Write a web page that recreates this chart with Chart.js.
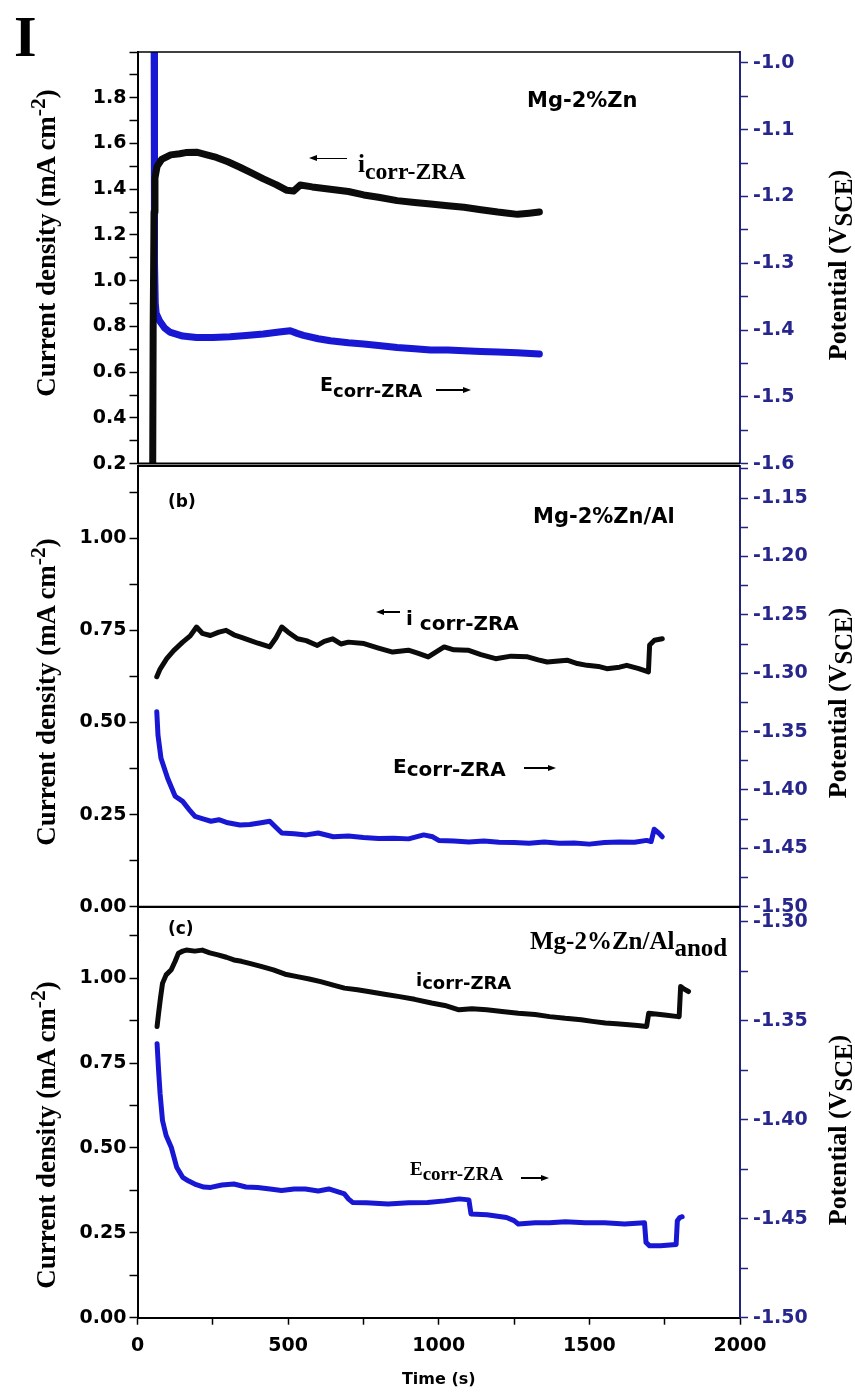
<!DOCTYPE html>
<html><head><meta charset="utf-8">
<script src="https://cdn.jsdelivr.net/npm/chart.js@4.4.1/dist/chart.umd.min.js"></script>
<style>
html,body{margin:0;padding:0;background:#fff;}
#wrap{position:relative;width:855px;height:1398px;background:#fff;overflow:hidden;}
canvas{position:absolute;left:0;}
.t{position:absolute;white-space:nowrap;color:#000;line-height:1;transform:translateY(-50%);}
.serif{font-family:"Liberation Serif","Times New Roman",serif;font-weight:bold;}
.sans{font-family:"DejaVu Sans",sans-serif;font-weight:bold;}
.rot{position:absolute;white-space:nowrap;line-height:1;transform:translate(-50%,-50%) rotate(-90deg);}
.ln{position:absolute;background:#000;height:1.5px;}
.hl{position:absolute;width:0;height:0;border-top:3px solid transparent;border-bottom:3px solid transparent;border-right:8px solid #000;}
.hr{position:absolute;width:0;height:0;border-top:3px solid transparent;border-bottom:3px solid transparent;border-left:8px solid #000;}
sub,sup{line-height:0;}
</style></head><body>
<div id="wrap">
<canvas id="c1" width="855" height="480" style="top:0px"></canvas>
<canvas id="c2" width="855" height="490" style="top:440px"></canvas>
<canvas id="c3" width="855" height="518" style="top:880px"></canvas>

<div class="t serif" style="left:14px;top:37px;font-size:58px;">I</div>

<div class="rot serif" style="left:46px;top:243px;font-size:27px;">Current density (mA cm<sup style="font-size:0.8em">-2</sup>)</div>
<div class="rot serif" style="left:46px;top:692px;font-size:27px;">Current density (mA cm<sup style="font-size:0.8em">-2</sup>)</div>
<div class="rot serif" style="left:46px;top:1135px;font-size:27px;">Current density (mA cm<sup style="font-size:0.8em">-2</sup>)</div>

<div class="rot serif" style="left:838px;top:265px;font-size:26px;">Potential (V<sub style="font-size:0.95em">SCE</sub>)</div>
<div class="rot serif" style="left:838px;top:703px;font-size:26px;">Potential (V<sub style="font-size:0.95em">SCE</sub>)</div>
<div class="rot serif" style="left:838px;top:1130px;font-size:26px;">Potential (V<sub style="font-size:0.95em">SCE</sub>)</div>

<!-- panel a -->
<div class="t sans" style="left:527px;top:100px;font-size:21px;">Mg-2%Zn</div>
<div class="ln" style="left:312px;top:157.5px;width:35px;"></div><div class="hl" style="left:309px;top:155.3px;"></div>
<div class="t serif" style="left:358px;top:163px;font-size:25px;">i<sub style="font-size:0.95em;vertical-align:-0.3em">corr-ZRA</sub></div>
<div class="t sans" style="left:320px;top:384px;font-size:19px;">E<sub style="font-size:0.95em;vertical-align:-0.35em">corr-ZRA</sub></div>
<div class="ln" style="left:436px;top:389px;width:30px;"></div><div class="hr" style="left:463px;top:386.8px;"></div>

<!-- panel b -->
<div class="t sans" style="left:168px;top:501px;font-size:17px;">(b)</div>
<div class="t sans" style="left:533px;top:516px;font-size:21px;">Mg-2%Zn/Al</div>
<div class="ln" style="left:380px;top:611px;width:20px;"></div><div class="hl" style="left:376px;top:608.8px;"></div>
<div class="t sans" style="left:406px;top:618px;font-size:20px;">i <sub style="font-size:1em;vertical-align:-0.25em">corr-ZRA</sub></div>
<div class="t sans" style="left:393px;top:766px;font-size:20px;">E<sub style="font-size:1em;vertical-align:-0.15em">corr-ZRA</sub></div>
<div class="ln" style="left:524px;top:767px;width:26px;"></div><div class="hr" style="left:548px;top:764.8px;"></div>

<!-- panel c -->
<div class="t sans" style="left:168px;top:928px;font-size:17px;">(c)</div>
<div class="t serif" style="left:530px;top:940px;font-size:25px;">Mg-2%Zn/Al<sub style="font-size:1em;vertical-align:-0.3em">anod</sub></div>
<div class="t sans" style="left:416px;top:980px;font-size:18px;">i<sub style="font-size:1em;vertical-align:-0.15em">corr-ZRA</sub></div>
<div class="t serif" style="left:410px;top:1168px;font-size:19px;">E<sub style="font-size:1em;vertical-align:-0.3em">corr-ZRA</sub></div>
<div class="ln" style="left:521px;top:1177px;width:22px;"></div><div class="hr" style="left:541px;top:1174.8px;"></div>
</div>

<script>
// ---------- DATA ----------
// Panel (a) Mg-2%Zn
const timeA_i = [50, 52, 55, 58, 65, 80, 110, 140, 160, 196, 230, 262, 300, 340, 380, 418, 460, 496, 518, 540, 580, 640, 700, 751, 800, 862, 920, 973, 1030, 1084, 1140, 1196, 1230, 1262, 1300, 1334];
const currentA = [0.0, 0.8, 1.3, 1.45, 1.50, 1.53, 1.55, 1.555, 1.56, 1.562, 1.55, 1.539, 1.52, 1.496, 1.47, 1.445, 1.42, 1.395, 1.392, 1.418, 1.41, 1.40, 1.39, 1.375, 1.365, 1.35, 1.342, 1.335, 1.328, 1.321, 1.31, 1.30, 1.295, 1.29, 1.295, 1.30];
const timeA_E = [55, 56, 57, 59, 62, 73, 90, 107, 150, 196, 250, 307, 360, 418, 470, 507, 530, 551, 600, 640, 700, 751, 800, 862, 920, 973, 1030, 1084, 1140, 1196, 1260, 1334];
const potentialA = [-0.9, -1.1, -1.3, -1.36, -1.375, -1.386, -1.397, -1.403, -1.409, -1.411, -1.411, -1.41, -1.408, -1.406, -1.403, -1.401, -1.405, -1.408, -1.413, -1.416, -1.419, -1.421, -1.423, -1.426, -1.428, -1.430, -1.430, -1.431, -1.432, -1.433, -1.434, -1.436];

// Panel (b) Mg-2%Zn/Al
const timeB_i = [64, 75, 97, 120, 150, 175, 196, 215, 242, 270, 294, 320, 345, 373, 400, 439, 460, 479, 500, 531, 560, 597, 620, 648, 675, 700, 752, 800, 847, 899, 930, 965, 1018, 1050, 1097, 1140, 1189, 1240, 1295, 1330, 1360, 1426, 1460, 1492, 1530, 1558, 1600, 1624, 1664, 1696, 1700, 1716, 1742];
const currentB = [0.624, 0.645, 0.673, 0.695, 0.718, 0.735, 0.759, 0.742, 0.736, 0.745, 0.750, 0.738, 0.731, 0.723, 0.715, 0.705, 0.730, 0.759, 0.745, 0.727, 0.722, 0.709, 0.72, 0.727, 0.713, 0.718, 0.714, 0.702, 0.691, 0.696, 0.688, 0.678, 0.705, 0.697, 0.696, 0.684, 0.673, 0.680, 0.678, 0.670, 0.664, 0.669, 0.660, 0.655, 0.652, 0.646, 0.650, 0.655, 0.646, 0.637, 0.71, 0.723, 0.727];
const timeB_E = [64, 68, 78, 100, 125, 150, 175, 191, 220, 244, 270, 300, 340, 373, 410, 439, 460, 479, 520, 560, 600, 650, 700, 750, 800, 850, 900, 950, 980, 1000, 1050, 1100, 1150, 1200, 1250, 1300, 1350, 1400, 1450, 1500, 1550, 1600, 1650, 1690, 1705, 1715, 1730, 1742];
const potentialB = [-1.3331, -1.3530, -1.3729, -1.3899, -1.4054, -1.4098, -1.4180, -1.4227, -1.4249, -1.4268, -1.4255, -1.4281, -1.4300, -1.4296, -1.4281, -1.4268, -1.4322, -1.4369, -1.4375, -1.4385, -1.4369, -1.4401, -1.4394, -1.4407, -1.4416, -1.4413, -1.4419, -1.4385, -1.4401, -1.4432, -1.4438, -1.4445, -1.4438, -1.4448, -1.4451, -1.4457, -1.4445, -1.4457, -1.4454, -1.4464, -1.4451, -1.4445, -1.4448, -1.4432, -1.4442, -1.4337, -1.4369, -1.4401];

// Panel (c) Mg-2%Zn/Al anod
const timeC_i = [65, 70, 76, 83, 95, 112, 125, 136, 150, 162, 190, 215, 240, 267, 295, 320, 345, 372, 410, 451, 490, 530, 570, 608, 650, 687, 730, 766, 820, 870, 920, 976, 1020, 1067, 1110, 1159, 1210, 1264, 1320, 1368, 1420, 1473, 1510, 1553, 1590, 1631, 1660, 1690, 1697, 1720, 1750, 1795, 1798, 1803, 1815, 1829];
const currentC = [0.858, 0.897, 0.94, 0.985, 1.01, 1.025, 1.05, 1.074, 1.08, 1.083, 1.08, 1.083, 1.075, 1.069, 1.062, 1.054, 1.05, 1.044, 1.035, 1.025, 1.012, 1.005, 0.998, 0.990, 0.98, 0.971, 0.966, 0.961, 0.953, 0.946, 0.938, 0.927, 0.92, 0.907, 0.91, 0.907, 0.902, 0.897, 0.893, 0.887, 0.882, 0.878, 0.873, 0.868, 0.866, 0.863, 0.861, 0.858, 0.897, 0.895, 0.892, 0.887, 0.887, 0.976, 0.968, 0.961];
const timeC_E = [65, 70, 75, 83, 95, 112, 130, 150, 170, 190, 220, 243, 280, 320, 360, 399, 440, 478, 520, 557, 600, 635, 687, 700, 714, 760, 832, 900, 963, 1020, 1068, 1100, 1107, 1160, 1225, 1250, 1264, 1320, 1368, 1420, 1486, 1550, 1617, 1683, 1688, 1700, 1736, 1788, 1792, 1800, 1808];
const potentialC = [-1.3616, -1.3751, -1.3869, -1.4004, -1.408, -1.4139, -1.424, -1.4291, -1.431, -1.4325, -1.434, -1.4342, -1.433, -1.4325, -1.434, -1.4342, -1.435, -1.4358, -1.435, -1.435, -1.436, -1.435, -1.4375, -1.44, -1.4418, -1.442, -1.4426, -1.442, -1.4418, -1.441, -1.44, -1.4405, -1.4476, -1.448, -1.4494, -1.451, -1.4527, -1.452, -1.452, -1.4515, -1.452, -1.452, -1.4527, -1.452, -1.462, -1.4637, -1.4637, -1.463, -1.451, -1.4494, -1.449];

// axis ranges / tick labels
const timeRange = [0, 2000];
const timeTickLabels = [0, 500, 1000, 1500, 2000];

// ---------- RENDER ----------
const BLACK = '#0b0b0b', BLUE = '#1818d4', NAVY = '#24247a', NAVYTXT = '#26268c';
const tickFont = {family: 'DejaVu Sans', weight: 'bold', size: 19};

const frame = {
  id: 'frame',
  afterDraw(chart, args, o) {
    const {ctx, chartArea: a} = chart;
    ctx.save();
    ctx.strokeStyle = '#000';
    ctx.lineWidth = o.top || 2;
    ctx.beginPath(); ctx.moveTo(a.left, a.top); ctx.lineTo(a.right, a.top); ctx.stroke();
    if (o.bottom) {
      ctx.lineWidth = o.bottom;
      ctx.beginPath(); ctx.moveTo(a.left, a.bottom); ctx.lineTo(a.right, a.bottom); ctx.stroke();
    }
    ctx.restore();
  }
};

function isMult(v, m) { const r = v / m; return Math.abs(r - Math.round(r)) < 1e-6; }
function pts(xs, ys) { return xs.map((x, i) => ({x: x, y: ys[i]})); }

function makePanel(id, cfg) {
  const datasets = [
    {label: 'i corr-ZRA', data: pts(cfg.ti, cfg.iv), yAxisID: 'yL', borderColor: BLACK, borderWidth: cfg.lw, pointRadius: 0, tension: 0, borderJoinStyle: 'round', borderCapStyle: 'round', order: 1},
    {label: 'E corr-ZRA', data: pts(cfg.tE, cfg.Ev), yAxisID: 'yR', borderColor: BLUE, borderWidth: cfg.lw, pointRadius: 0, tension: 0, borderJoinStyle: 'round', borderCapStyle: 'round', order: 2}
  ];
  const xAxis = cfg.showX ? {
    type: 'linear', min: timeRange[0], max: timeRange[1], position: 'bottom',
    afterFit: s => { s.height = cfg.xHeight; },
    border: {color: '#000', width: 2},
    grid: {drawOnChartArea: false, tickLength: 7, tickColor: '#000', tickWidth: 1.5},
    ticks: {stepSize: 250, autoSkip: false, maxRotation: 0, color: '#000', font: tickFont, padding: 10, includeBounds: false,
      callback: v => timeTickLabels.includes(v) ? String(v) : ''},
    title: {display: true, text: 'Time (s)', color: '#000', font: {family: 'DejaVu Sans', weight: 'bold', size: 16}, padding: {top: 0, bottom: 9}}
  } : {type: 'linear', min: timeRange[0], max: timeRange[1], display: false};

  new Chart(document.getElementById(id), {
    type: 'line',
    data: {datasets},
    options: {
      responsive: false, animation: false, devicePixelRatio: 1,
      layout: {padding: {top: cfg.padTop, bottom: cfg.padBottom, left: 0, right: 0}},
      plugins: {legend: {display: false}, tooltip: {enabled: false}, frame: {top: cfg.frameTop, bottom: cfg.frameBottom}},
      scales: {
        x: xAxis,
        yL: {
          type: 'linear', position: 'left', min: cfg.lMin, max: cfg.lMax,
          afterFit: s => { s.width = 137.5; },
          border: {color: '#000', width: 2},
          grid: {drawOnChartArea: false, tickLength: 8, tickColor: '#000', tickWidth: 1.5},
          ticks: {stepSize: cfg.lStep, autoSkip: false, includeBounds: false, color: '#000', font: tickFont, padding: 3,
            callback: v => (isMult(v, cfg.lMajor) && v <= cfg.lLabelMax + 1e-9) ? v.toFixed(cfg.lDec) : ''}
        },
        yR: {
          type: 'linear', position: 'right', min: cfg.rMin, max: cfg.rMax,
          afterFit: s => { s.width = 115; },
          border: {color: NAVY, width: 2},
          grid: {drawOnChartArea: false, tickLength: 8, tickColor: NAVY, tickWidth: 1.5},
          ticks: {stepSize: cfg.rStep, autoSkip: false, includeBounds: false, color: NAVYTXT, font: tickFont, padding: 5,
            callback: v => isMult(v, cfg.rMajor) ? v.toFixed(cfg.rDec) : ''}
        }
      }
    },
    plugins: [frame]
  });
}

makePanel('c1', {ti: timeA_i, iv: currentA, tE: timeA_E, Ev: potentialA, lw: 7,
  padTop: 52, padBottom: 15, frameTop: 1.5, frameBottom: 2, showX: false,
  lMin: 0.2, lMax: 2.0, lStep: 0.1, lMajor: 0.2, lDec: 1, lLabelMax: 1.8,
  rMin: -1.6, rMax: -0.9836, rStep: 0.05, rMajor: 0.1, rDec: 1});

makePanel('c2', {ti: timeB_i, iv: currentB, tE: timeB_E, Ev: potentialB, lw: 5,
  padTop: 26, padBottom: 23.3, frameTop: 2, frameBottom: 2, showX: false,
  lMin: 0, lMax: 1.196, lStep: 0.125, lMajor: 0.25, lDec: 2, lLabelMax: 1.0,
  rMin: -1.5, rMax: -1.1225, rStep: 0.025, rMajor: 0.05, rDec: 2});

makePanel('c3', {ti: timeC_i, iv: currentC, tE: timeC_E, Ev: potentialC, lw: 5,
  padTop: 27, padBottom: 0, frameTop: 2, frameBottom: 0, showX: true, xHeight: 80.3,
  lMin: 0, lMax: 1.21, lStep: 0.125, lMajor: 0.25, lDec: 2, lLabelMax: 1.0,
  rMin: -1.5, rMax: -1.2926, rStep: 0.025, rMajor: 0.05, rDec: 2});
</script>
</body></html>
